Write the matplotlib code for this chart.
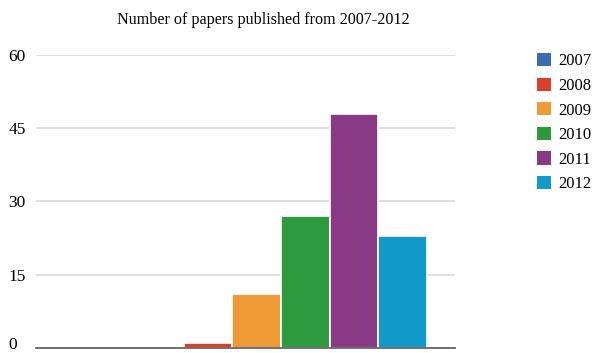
import matplotlib.pyplot as plt
import matplotlib.transforms as mtransforms
import numpy as np
from matplotlib.patches import Patch

plt.rcParams['font.family'] = ['Liberation Serif', 'DejaVu Serif']

years = ['2007', '2008', '2009', '2010', '2011', '2012']
papers = [0, 1, 11, 27, 48, 23]
colors = ['#3d6bb3', '#d9402a', '#ef9a37', '#2e9a3e', '#8a3a85', '#1199c9']
yticks = [0, 15, 30, 45, 60]

fig = plt.figure(figsize=(5.97, 3.53), dpi=100)
ax = fig.add_axes([0.0603, 0.0142, 0.7017, 0.830])

x = np.arange(len(years))
ax.bar(x, papers, width=1.0, color=colors, edgecolor='white', linewidth=1.2, zorder=3)

ax.set_xlim(-2.53, 6.07)
ax.set_ylim(0, 60)
ax.set_yticks(yticks)
ax.set_yticklabels([str(v) for v in yticks], fontsize=12.5)
ax.set_xticks([])
ax.tick_params(axis='y', length=0, pad=20)
for lab in ax.get_yticklabels():
    lab.set_horizontalalignment('left')
# the zero label sits a bit above the baseline
zero = ax.get_yticklabels()[0]
zero.set_transform(zero.get_transform() + mtransforms.ScaledTranslation(0, 5 / 100, fig.dpi_scale_trans))
ax.grid(axis='y', color='#d9d9d9', linewidth=1.2, zorder=0)
for s in ['top', 'right', 'left']:
    ax.spines[s].set_visible(False)
ax.spines['bottom'].set_color('#666666')
ax.spines['bottom'].set_linewidth(1.3)
ax.spines['bottom'].set_zorder(4)

fig.text(0.441, 0.943, 'Number of papers published from 2007-2012', ha='center', va='center', fontsize=11.6)

handles = [Patch(facecolor=c, edgecolor='none') for c in colors]
fig.legend(handles, years, loc='upper left', bbox_to_anchor=(0.8995, 0.85), frameon=False,
           fontsize=12, handlelength=0.85, handleheight=0.85, handletextpad=0.45,
           labelspacing=0.49, borderaxespad=0, borderpad=0)

fig.savefig('out.png', dpi=100)
